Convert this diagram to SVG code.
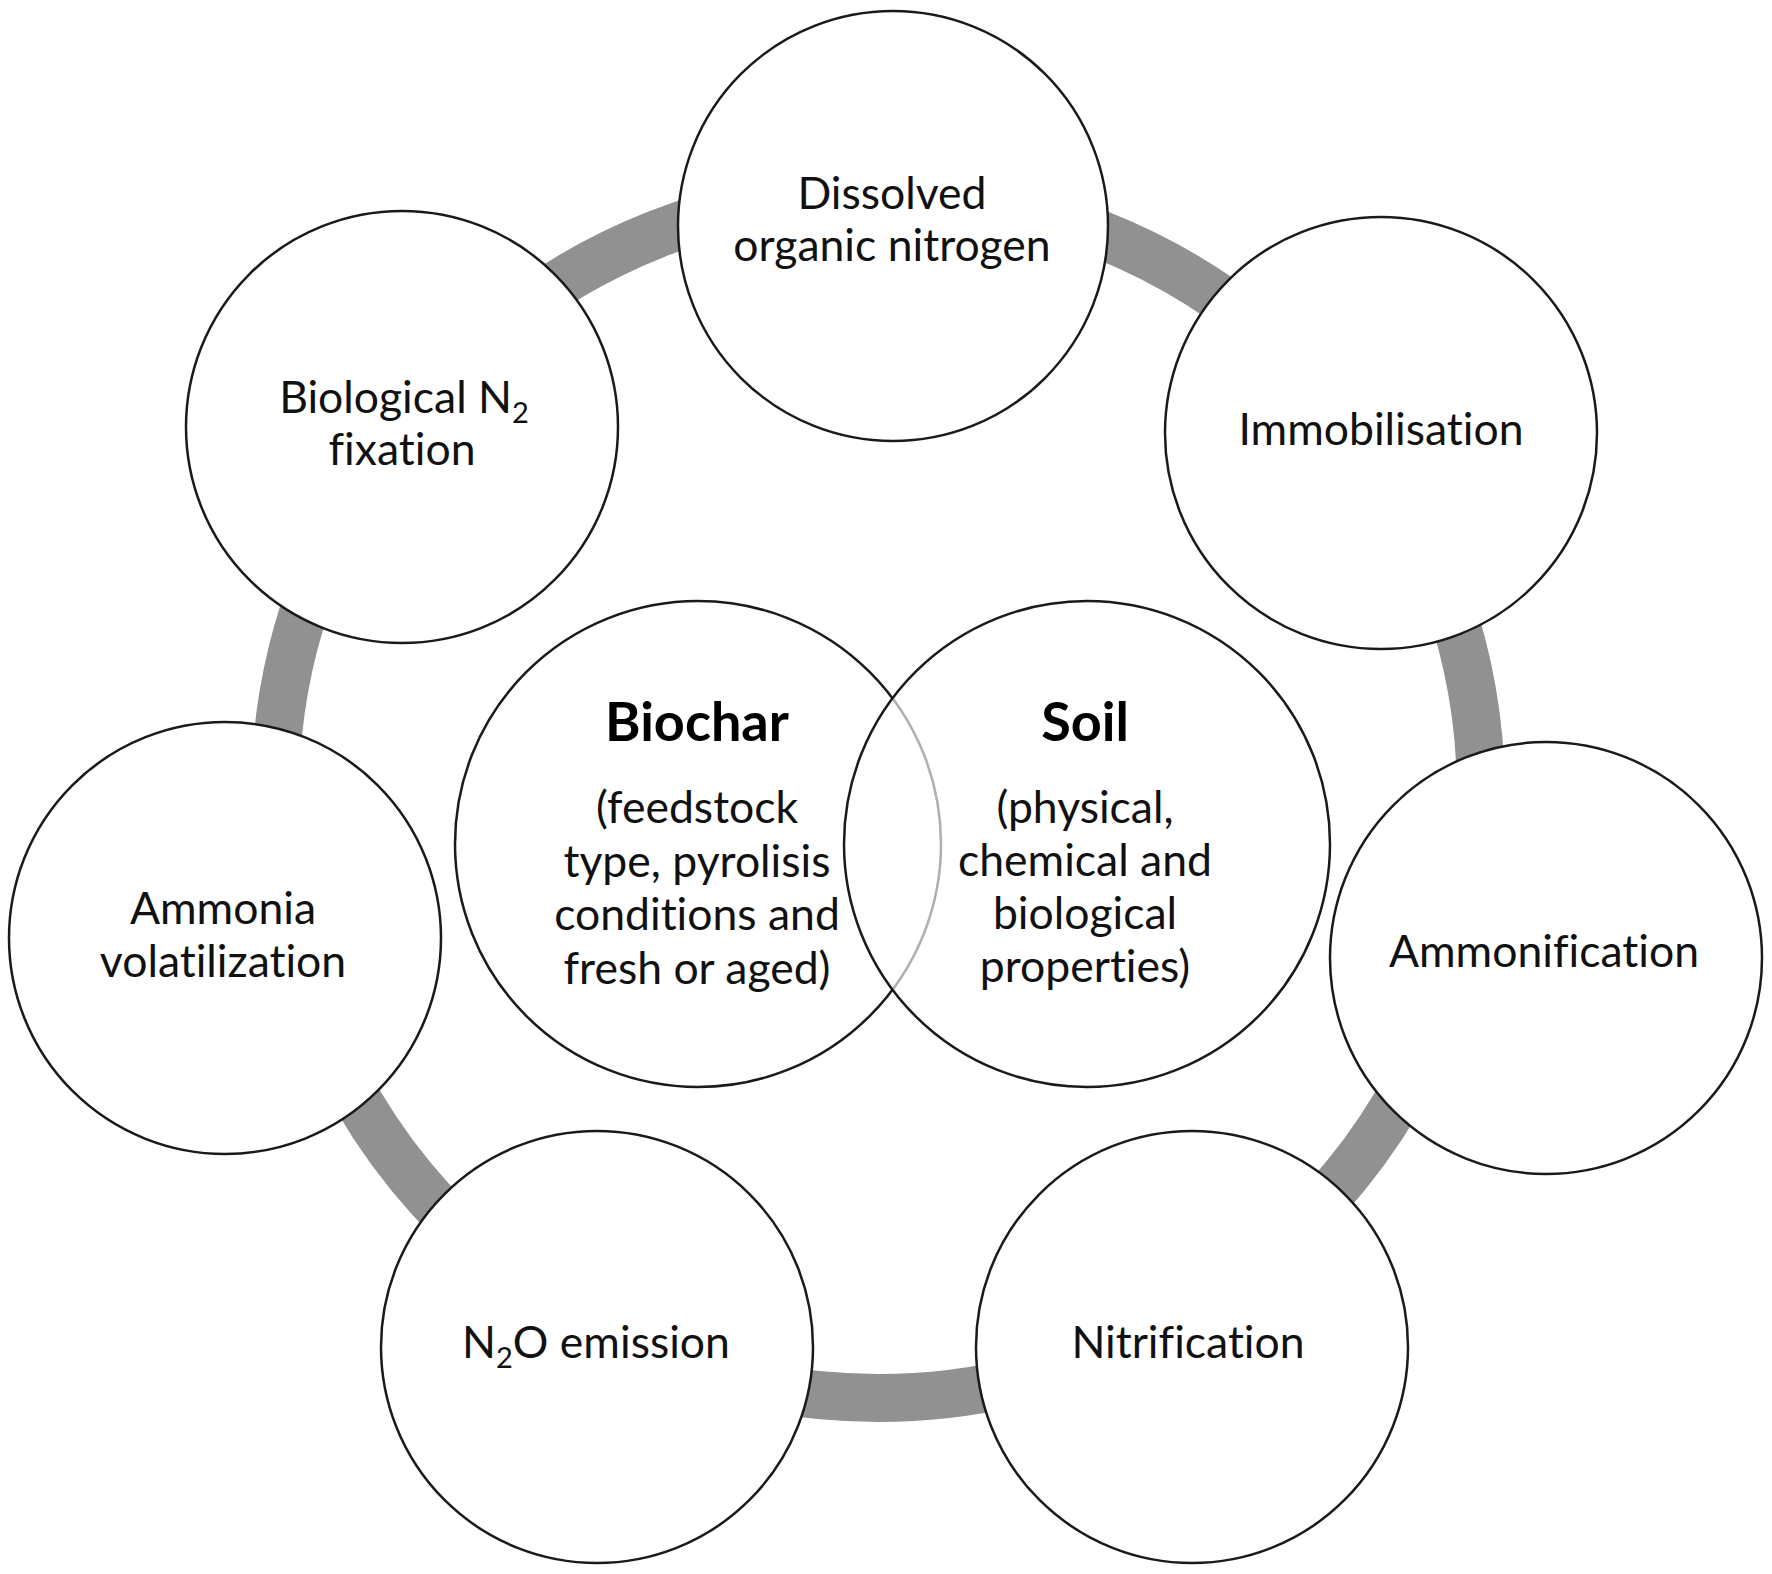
<svg xmlns="http://www.w3.org/2000/svg" width="1772" height="1574" viewBox="0 0 1772 1574">
<style>
.bg{fill:#ffffff}
.ring{fill:none;stroke:#919191;stroke-width:48}
.node{fill:#ffffff;stroke:#1a1a1a;stroke-width:2.5}
.soil{fill:#ffffff;fill-opacity:0.65;stroke:#1a1a1a;stroke-width:2.5}
.t{font-family:Lato,"Open Sans","Liberation Sans",sans-serif;font-size:44.5px;fill:#111;text-anchor:middle;font-variant-ligatures:none;font-feature-settings:"liga" 0,"dlig" 0}
.b{font-weight:bold;font-size:54px;fill:#000}
.sub{font-size:29px}
</style>
<rect class="bg" x="0" y="0" width="1772" height="1574"/>
<g id="connectors">
<circle class="ring" cx="878" cy="795" r="603"/>
</g>
<g id="node-dissolved">
<circle class="node" cx="893" cy="226" r="215"/>
<text class="t" x="892" y="209">Dissolved</text>
<text class="t" x="892" y="261">organic nitrogen</text>
</g>
<g id="node-immobilisation">
<circle class="node" cx="1381" cy="433" r="216"/>
<text class="t" x="1381" y="445">Immobilisation</text>
</g>
<g id="node-ammonification">
<circle class="node" cx="1546" cy="958" r="216"/>
<text class="t" x="1544" y="967">Ammonification</text>
</g>
<g id="node-nitrification">
<circle class="node" cx="1192" cy="1347" r="216"/>
<text class="t" x="1188" y="1358">Nitrification</text>
</g>
<g id="node-n2o">
<circle class="node" cx="597" cy="1347" r="216"/>
<text class="t" x="596" y="1358">N<tspan class="sub" dy="10">2</tspan><tspan dy="-10">O emission</tspan></text>
</g>
<g id="node-ammonia">
<circle class="node" cx="225" cy="938" r="216"/>
<text class="t" x="223" y="924">Ammonia</text>
<text class="t" x="223" y="977">volatilization</text>
</g>
<g id="node-fixation">
<circle class="node" cx="402" cy="427" r="216"/>
<text class="t" x="404" y="413">Biological N<tspan class="sub" dy="10">2</tspan></text>
<text class="t" x="402" y="465">fixation</text>
</g>
<g id="node-biochar">
<circle class="node" cx="698" cy="844" r="243"/>
<text class="t b" x="697" y="741">Biochar</text>
<text class="t" x="697" y="823">(feedstock</text>
<text class="t" x="697" y="877">type, pyrolisis</text>
<text class="t" x="697" y="930">conditions and</text>
<text class="t" x="697" y="984">fresh or aged)</text>
</g>
<g id="node-soil">
<circle class="soil" cx="1087" cy="844" r="243"/>
<text class="t b" x="1085" y="741">Soil</text>
<text class="t" x="1085" y="823">(physical,</text>
<text class="t" x="1085" y="876">chemical and</text>
<text class="t" x="1085" y="929">biological</text>
<text class="t" x="1085" y="982">properties)</text>
</g>
</svg>
